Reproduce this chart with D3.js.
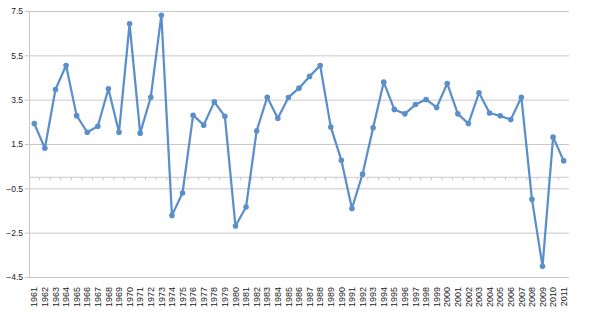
<!DOCTYPE html>
<html>
<head>
<meta charset="utf-8">
<script src="https://cdn.jsdelivr.net/npm/d3@7"></script>
<style>
  body { margin: 0; background: white; }
  svg text { font-family: "Liberation Sans", Arial, sans-serif; fill: #222; }
</style>
</head>
<body>
<div id="chart"></div>
<script>
// years shown along the bottom
const years = d3.range(1961, 2012).map(String);

// values
const values = [
  2.42, 1.31, 3.96, 5.04, 2.78, 2.03, 2.30, 3.99, 2.03, 6.92,
  1.99, 3.61, 7.31, -1.72, -0.71, 2.80, 2.35, 3.40, 2.75, -2.20,
  -1.34, 2.09, 3.61, 2.66, 3.60, 4.02, 4.55, 5.04, 2.27, 0.77,
  -1.41, 0.14, 2.23, 4.29, 3.06, 2.86, 3.28, 3.51, 3.15, 4.23,
  2.86, 2.42, 3.81, 2.90, 2.77, 2.60, 3.61, -0.99, -4.02, 1.81,
  0.74
];

const yTicks = [7.5, 5.5, 3.5, 1.5, -0.5, -2.5, -4.5];

const width = 591, height = 334;
const margin = {top: 11, right: 22, bottom: 57, left: 29};

const svg = d3.select("#chart").append("svg")
  .attr("width", width)
  .attr("height", height);

const x = d3.scaleBand()
  .domain(years)
  .range([margin.left, width - margin.right]);

const y = d3.scaleLinear()
  .domain([-4.5, 7.5])
  .range([height - margin.bottom, margin.top]);

// gridlines + y labels
svg.append("g")
  .attr("transform", `translate(${margin.left},0)`)
  .call(d3.axisLeft(y).tickValues(yTicks).tickSize(-(width - margin.left - margin.right)).tickSizeOuter(0).tickPadding(6).tickFormat(d3.format(".1f")))
  .call(g => g.select(".domain").attr("stroke", "#c8c8c8"))
  .call(g => g.selectAll(".tick line").attr("stroke", "#c8c8c8").attr("x1", -4))
  .call(g => g.selectAll(".tick text").attr("font-size", 8.5).attr("fill", "#222"));

// horizontal axis at zero, ticks between categories
const xAxis = svg.append("g")
  .attr("transform", `translate(0,${y(0)})`);

xAxis.append("line")
  .attr("x1", margin.left).attr("x2", width - margin.right)
  .attr("stroke", "#c8c8c8");

xAxis.selectAll("line.tk")
  .data(years.slice(1))
  .join("line")
  .attr("class", "tk")
  .attr("x1", d => x(d)).attr("x2", d => x(d))
  .attr("y1", 0).attr("y2", 3)
  .attr("stroke", "#c8c8c8");

// year labels at the bottom
svg.append("g")
  .selectAll("text")
  .data(years)
  .join("text")
  .attr("transform", d => `translate(${x(d) + x.bandwidth() / 2 + 3.2},${height - margin.bottom + 10}) rotate(-90)`)
  .attr("text-anchor", "end")
  .attr("font-size", 9)
  .text(d => d);

const line = d3.line()
  .x((d, i) => x(years[i]) + x.bandwidth() / 2)
  .y(d => y(d));

svg.append("path")
  .datum(values)
  .attr("fill", "none")
  .attr("stroke", "#5b8fc9")
  .attr("stroke-width", 2.25)
  .attr("stroke-linejoin", "round")
  .attr("d", line);

svg.append("g")
  .selectAll("circle")
  .data(values)
  .join("circle")
  .attr("cx", (d, i) => x(years[i]) + x.bandwidth() / 2)
  .attr("cy", d => y(d))
  .attr("r", 2.8)
  .attr("fill", "#5b8fc9");
</script>
</body>
</html>
